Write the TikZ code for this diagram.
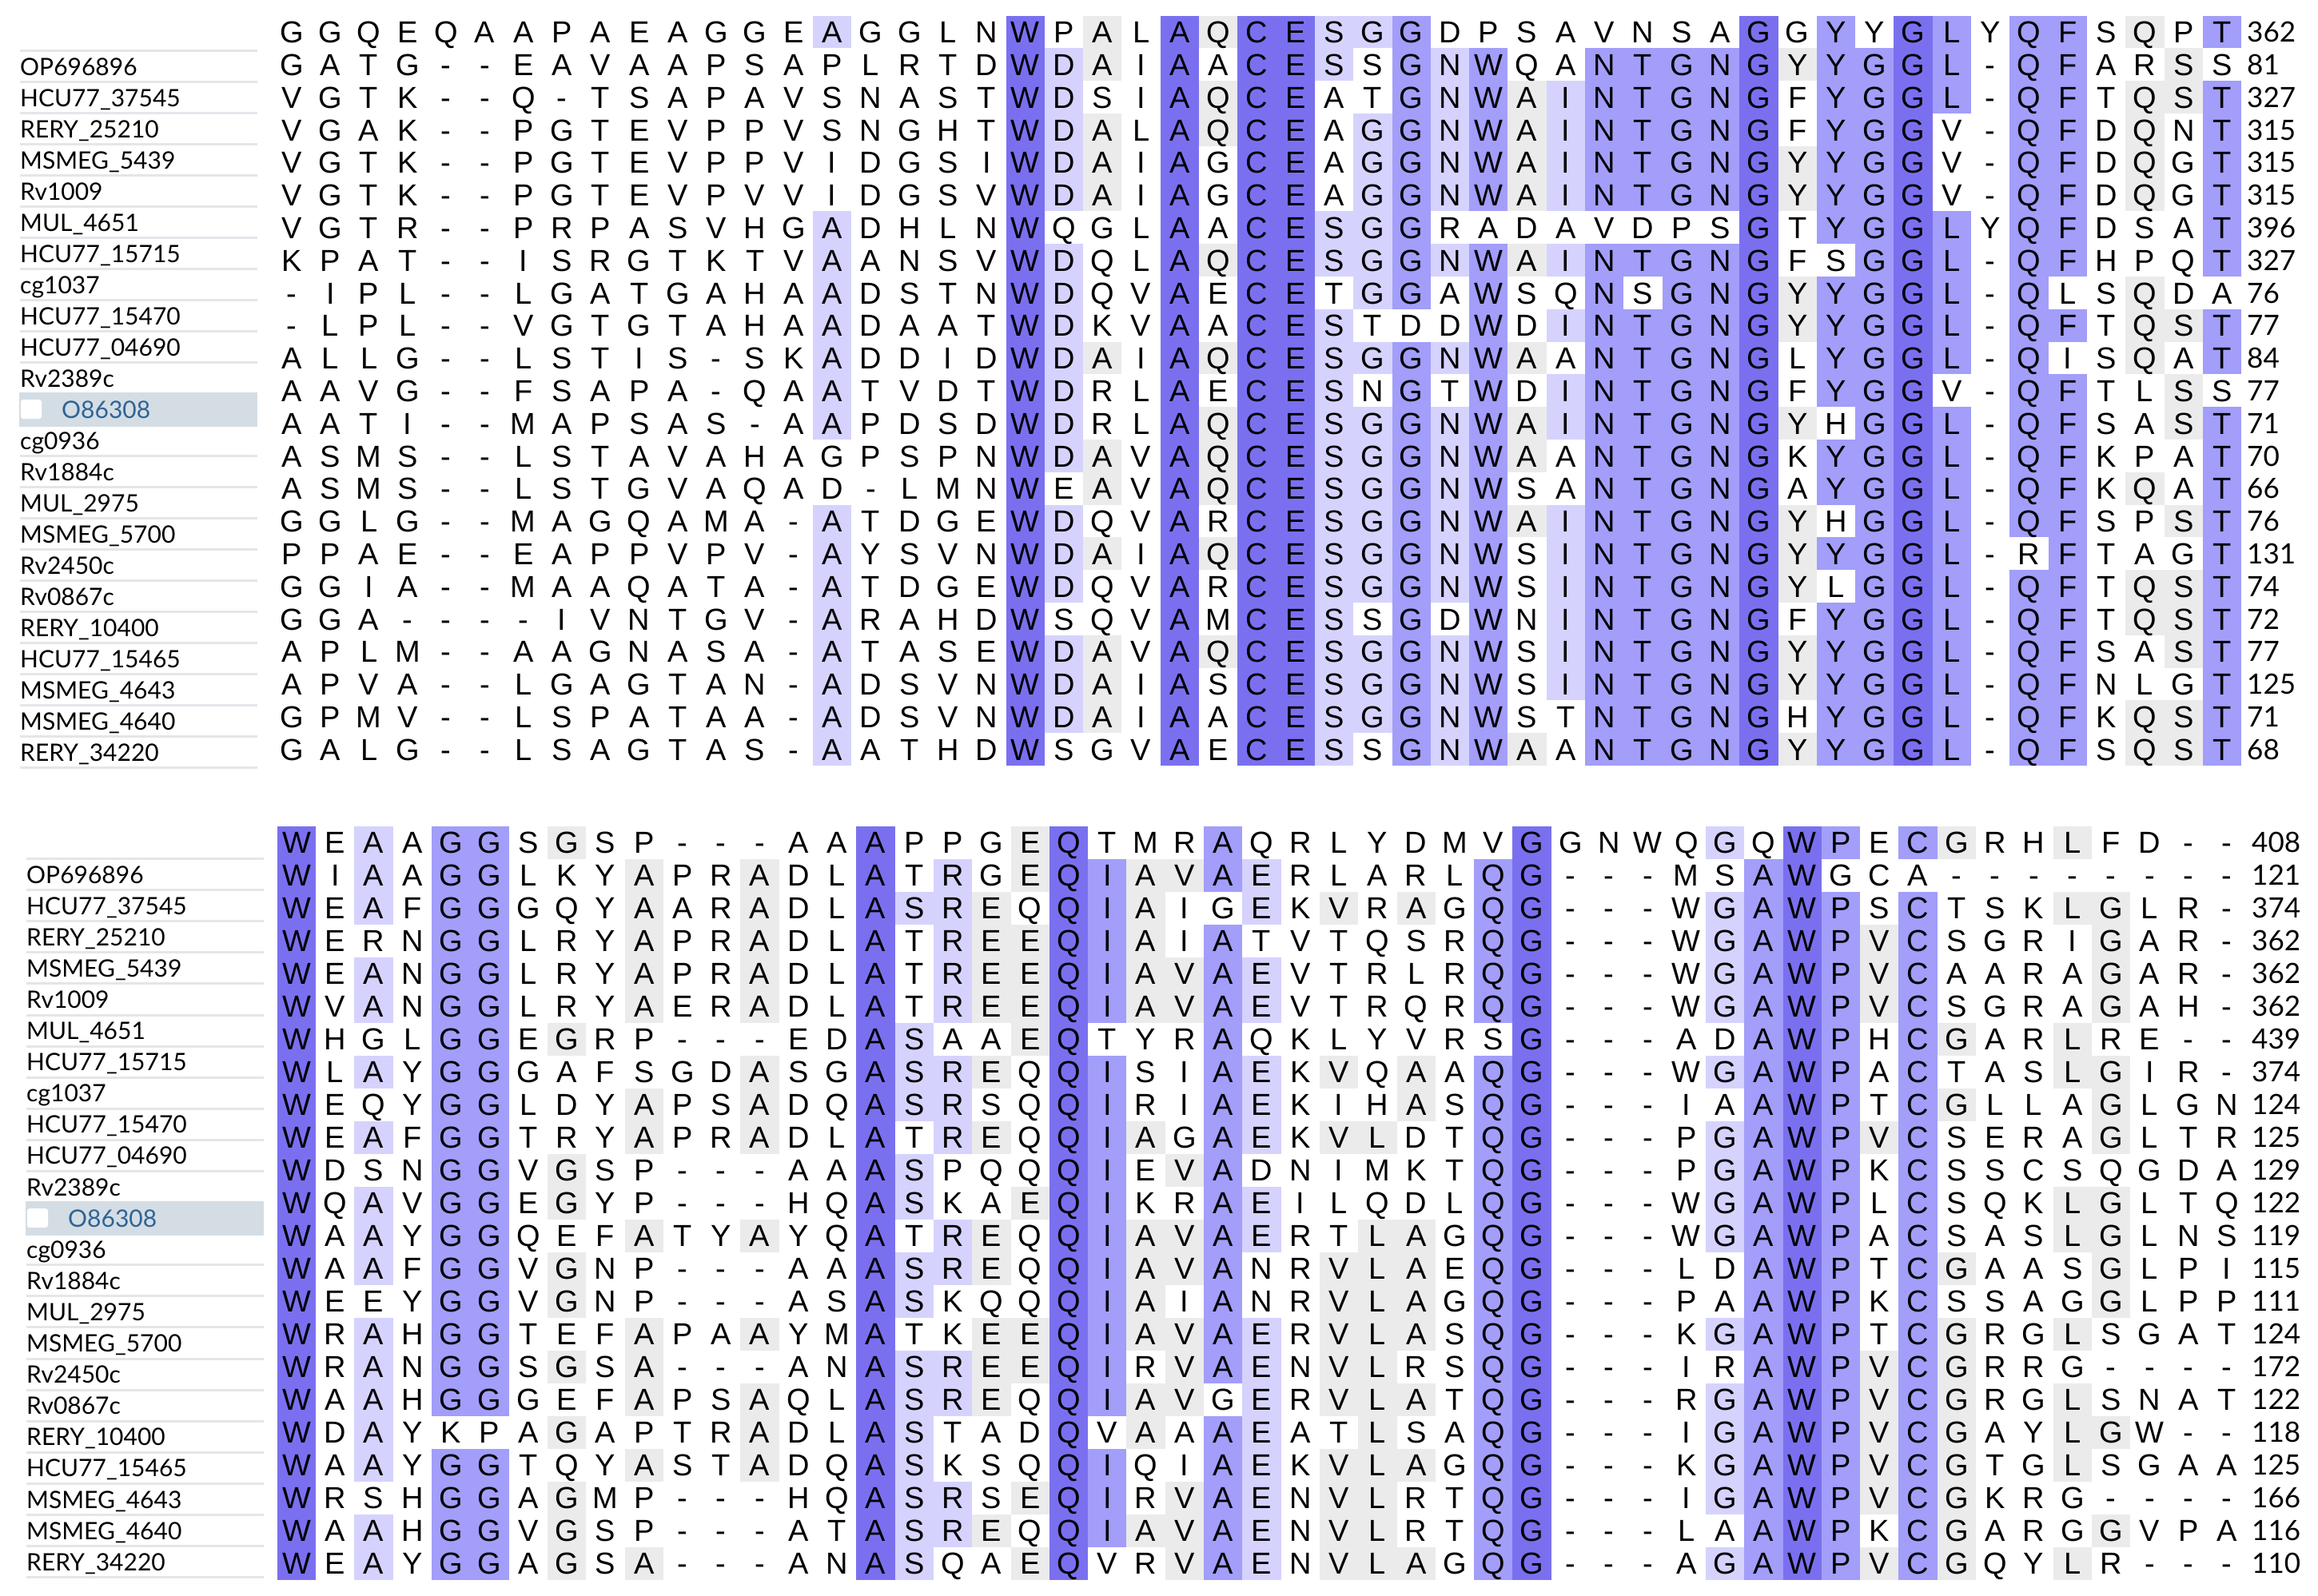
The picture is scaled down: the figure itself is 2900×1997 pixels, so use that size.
\documentclass[tikz,border=0pt]{standalone}
\usepackage{fontspec}
\newfontfamily\seqfont{Liberation Sans}
\newfontfamily\labfont{Lato}
\definecolor{lv1}{HTML}{EBEBEB}
\definecolor{lv2}{HTML}{D5D3FD}
\definecolor{lv3}{HTML}{A29EFA}
\definecolor{lv4}{HTML}{7A70EF}
\definecolor{sepgrey}{HTML}{E3E6EA}
\definecolor{selbox}{HTML}{D4DDE4}
\definecolor{seltext}{HTML}{2E6496}
\tikzset{
  res/.style={font=\seqfont\fontsize{38}{38}\selectfont, inner sep=0pt, anchor=base},
  numlab/.style={font=\labfont\fontsize{35}{35}\selectfont, inner sep=0pt, anchor=base west},
  seqlab/.style={font=\labfont\fontsize{30}{30}\selectfont, inner sep=0pt, anchor=base west},
  sepline/.style={draw=sepgrey, line width=3pt},
}

\ExplSyntaxOn
\seq_new:N \g_msa_rows_seq
\seq_new:N \l_msa_nums_seq
\prop_new:N \l_msa_cnt_prop
\prop_new:N \g_msa_cons_prop
\prop_new:N \g_msa_lev_prop
\tl_new:N \l_msa_ch_tl
\tl_new:N \l_msa_cons_tl
\tl_new:N \l_msa_col_tl
\tl_new:N \l_msa_name_tl
\tl_new:N \l_msa_num_tl
\tl_new:N \l_msa_xa_tl
\tl_new:N \l_msa_xb_tl
\tl_new:N \l_msa_ya_tl
\tl_new:N \l_msa_yb_tl
\tl_new:N \l_msa_xc_tl
\tl_new:N \l_msa_yc_tl
\tl_new:N \l_msa_blk_tl
\int_new:N \l_msa_max_int
\int_new:N \l_msa_row_int
\int_new:N \l_msa_lev_int
\int_new:N \l_msa_n_int
\fp_new:N \l_msa_xz_fp
\fp_new:N \l_msa_dx_fp
\fp_new:N \l_msa_yz_fp
\fp_new:N \l_msa_dy_fp
\bool_new:N \l_msa_pass_bool

\cs_generate_variant:Nn \prop_put:Nnn { Nnx }
\cs_generate_variant:Nn \prop_gput:Nnn { NnV , Nnx }

\cs_new_protected:Npn \msa_add:n #1
  {
    \prop_put:Nnx \l_msa_cnt_prop {#1}
      { \int_eval:n { 0 \prop_item:Nn \l_msa_cnt_prop {#1} + 1 } }
  }
\cs_generate_variant:Nn \msa_add:n { V }

\cs_new_protected:Npn \msa_column:n #1
  {
    \prop_clear:N \l_msa_cnt_prop
    \seq_map_inline:Nn \g_msa_rows_seq
      {
        \tl_set:Nx \l_msa_ch_tl { \str_item:nn {##1} {#1} }
        \str_if_eq:eeF { \l_msa_ch_tl } { - }
          { \msa_add:V \l_msa_ch_tl }
      }
    \int_zero:N \l_msa_max_int
    \tl_clear:N \l_msa_cons_tl
    \prop_map_inline:Nn \l_msa_cnt_prop
      {
        \int_compare:nNnT {##2} > \l_msa_max_int
          {
            \int_set:Nn \l_msa_max_int {##2}
            \tl_set:Nn \l_msa_cons_tl {##1}
          }
      }
    \prop_gput:NnV \g_msa_cons_prop {#1} \l_msa_cons_tl
    \int_set:Nn \l_msa_n_int { \seq_count:N \g_msa_rows_seq }
    \prop_gput:Nnx \g_msa_lev_prop {#1}
      {
        \int_compare:nNnTF { \l_msa_max_int } = { \l_msa_n_int } { 4 }
          {
            \int_compare:nNnTF { 5 * \l_msa_max_int } < { 4 * \l_msa_n_int }
              {
                \int_compare:nNnTF { 5 * \l_msa_max_int } < { 3 * \l_msa_n_int }
                  {
                    \int_compare:nNnTF { 5 * \l_msa_max_int } < { 2 * \l_msa_n_int }
                      { 0 } { 1 }
                  }
                  { 2 }
              }
              { 3 }
          }
      }
  }

\cs_new_protected:Npn \msa_row:nn #1#2
  {
    \tl_set:Nx \l_msa_yc_tl { \fp_eval:n { \l_msa_yz_fp + #1 * \l_msa_dy_fp } }
    \int_step_inline:nn { \str_count:n {#2} }
      {
        \tl_set:Nx \l_msa_ch_tl { \str_item:nn {#2} {##1} }
        \tl_set:Nx \l_msa_xc_tl { \fp_eval:n { \l_msa_xz_fp + (##1 - 1) * \l_msa_dx_fp } }
        \bool_if:NTF \l_msa_pass_bool
          {
            \int_set:Nn \l_msa_lev_int { 0 \prop_item:Nn \g_msa_lev_prop {##1} }
            \bool_lazy_and:nnT
              { \int_compare_p:nNn \l_msa_lev_int > 0 }
              { \str_if_eq_p:ee { \l_msa_ch_tl } { \prop_item:Nn \g_msa_cons_prop {##1} } }
              {
                \tl_set:Nx \l_msa_col_tl { lv \int_use:N \l_msa_lev_int }
                \tl_set:Nx \l_msa_xa_tl { \fp_eval:n { \l_msa_xc_tl - \l_msa_dx_fp / 2 } }
                \tl_set:Nx \l_msa_xb_tl { \fp_eval:n { \l_msa_xc_tl + \l_msa_dx_fp / 2 } }
                \tl_set:Nx \l_msa_ya_tl { \fp_eval:n { \l_msa_yc_tl - \l_msa_dy_fp / 2 } }
                \tl_set:Nx \l_msa_yb_tl { \fp_eval:n { \l_msa_yc_tl + \l_msa_dy_fp / 2 } }
                \fill [ fill = \l_msa_col_tl ] ( \l_msa_xa_tl , \l_msa_ya_tl ) ~ rectangle ~ ( \l_msa_xb_tl , \l_msa_yb_tl ) ;
              }
          }
          {
            \tl_set:Nx \l_msa_name_tl { \l_msa_blk_tl r #1 c ##1 }
            \tl_set:Nx \l_msa_yb_tl { \fp_eval:n { \l_msa_yc_tl + 13.6 } }
            \node [ res ] ~ ( \l_msa_name_tl ) ~ at ~ ( \l_msa_xc_tl , \l_msa_yb_tl ) ~ { \l_msa_ch_tl } ;
          }
      }
    \bool_if:NF \l_msa_pass_bool
      {
        \tl_set:Nx \l_msa_xa_tl { \fp_eval:n { \l_msa_xz_fp + 50 * \l_msa_dx_fp + 31 } }
        \tl_set:Nx \l_msa_ya_tl { \fp_eval:n { \l_msa_yc_tl + 12.6 } }
        \tl_set:Nx \l_msa_num_tl { \seq_item:Nn \l_msa_nums_seq { #1 + 1 } }
        \tl_set:Nx \l_msa_name_tl { \l_msa_blk_tl n #1 }
        \node [ numlab ] ~ ( \l_msa_name_tl ) ~ at ~ ( \l_msa_xa_tl , \l_msa_ya_tl ) ~ { \l_msa_num_tl } ;
      }
  }

\cs_new_protected:Npn \msa_rows:
  {
    \int_zero:N \l_msa_row_int
    \seq_map_inline:Nn \g_msa_rows_seq
      {
        \exp_args:NV \msa_row:nn \l_msa_row_int {##1}
        \int_incr:N \l_msa_row_int
      }
  }

\NewDocumentCommand \MSABlock { m m m m m m m }
  {
    \tl_set:Nn \l_msa_blk_tl {#1}
    \fp_set:Nn \l_msa_xz_fp {#2}
    \fp_set:Nn \l_msa_dx_fp {#3}
    \fp_set:Nn \l_msa_yz_fp {#4}
    \fp_set:Nn \l_msa_dy_fp {#5}
    \seq_gset_from_clist:Nn \g_msa_rows_seq {#6}
    \seq_set_from_clist:Nn \l_msa_nums_seq {#7}
    \prop_gclear:N \g_msa_cons_prop
    \prop_gclear:N \g_msa_lev_prop
    \int_step_inline:nn { 51 } { \msa_column:n {##1} }
    \bool_set_true:N \l_msa_pass_bool
    \msa_rows:
    \bool_set_false:N \l_msa_pass_bool
    \msa_rows:
  }
\ExplSyntaxOff

\newcommand\MSALabels[4]{%
  \foreach \lab [count=\i] in {OP696896,HCU77\_37545,RERY\_25210,MSMEG\_5439,Rv1009,MUL\_4651,HCU77\_15715,cg1037,HCU77\_15470,HCU77\_04690,Rv2389c,O86308,cg0936,Rv1884c,MUL\_2975,MSMEG\_5700,Rv2450c,Rv0867c,RERY\_10400,HCU77\_15465,MSMEG\_4643,MSMEG\_4640,RERY\_34220} {
    \pgfmathsetmacro\ly{#3+(\i-1)*#4}
    \ifnum\i=12
      \fill[selbox] (#2-1,\ly-21.5) rectangle (#2+297,\ly+21.5);
      \fill[white, rounded corners=3pt] (#2+1,\ly-12) rectangle (#2+27,\ly+12);
      \node[seqlab, text=seltext] (#1l\i) at (#2+52,\ly+11) {\lab};
    \else
      \node[seqlab] (#1l\i) at (#2,\ly+11) {\lab};
      \ifnum\i<12 \draw[sepline] (#2,\ly-19.5) -- (#2+297,\ly-19.5); \fi
      \ifnum\i>12 \draw[sepline] (#2,\ly+19.5) -- (#2+297,\ly+19.5); \fi
    \fi
  }%
}

\begin{document}
\begin{tikzpicture}[x=1pt,y=-1pt]
\useasboundingbox (0,0) rectangle (2900,1997);
\fill[white] (0,0) rectangle (2900,1997);

\MSABlock{a}{365}{48.3}{40}{40.8}{
GGQEQAAPAEAGGEAGGLNWPALAQCESGGDPSAVNSAGGYYGLYQFSQPT,
GATG--EAVAAPSAPLRTDWDAIAACESSGNWQANTGNGYYGGL-QFARSS,
VGTK--Q-TSAPAVSNASTWDSIAQCEATGNWAINTGNGFYGGL-QFTQST,
VGAK--PGTEVPPVSNGHTWDALAQCEAGGNWAINTGNGFYGGV-QFDQNT,
VGTK--PGTEVPPVIDGSIWDAIAGCEAGGNWAINTGNGYYGGV-QFDQGT,
VGTK--PGTEVPVVIDGSVWDAIAGCEAGGNWAINTGNGYYGGV-QFDQGT,
VGTR--PRPASVHGADHLNWQGLAACESGGRADAVDPSGTYGGLYQFDSAT,
KPAT--ISRGTKTVAANSVWDQLAQCESGGNWAINTGNGFSGGL-QFHPQT,
-IPL--LGATGAHAADSTNWDQVAECETGGAWSQNSGNGYYGGL-QLSQDA,
-LPL--VGTGTAHAADAATWDKVAACESTDDWDINTGNGYYGGL-QFTQST,
ALLG--LSTIS-SKADDIDWDAIAQCESGGNWAANTGNGLYGGL-QISQAT,
AAVG--FSAPA-QAATVDTWDRLAECESNGTWDINTGNGFYGGV-QFTLSS,
AATI--MAPSAS-AAPDSDWDRLAQCESGGNWAINTGNGYHGGL-QFSAST,
ASMS--LSTAVAHAGPSPNWDAVAQCESGGNWAANTGNGKYGGL-QFKPAT,
ASMS--LSTGVAQAD-LMNWEAVAQCESGGNWSANTGNGAYGGL-QFKQAT,
GGLG--MAGQAMA-ATDGEWDQVARCESGGNWAINTGNGYHGGL-QFSPST,
PPAE--EAPPVPV-AYSVNWDAIAQCESGGNWSINTGNGYYGGL-RFTAGT,
GGIA--MAAQATA-ATDGEWDQVARCESGGNWSINTGNGYLGGL-QFTQST,
GGA----IVNTGV-ARAHDWSQVAMCESSGDWNINTGNGFYGGL-QFTQST,
APLM--AAGNASA-ATASEWDAVAQCESGGNWSINTGNGYYGGL-QFSAST,
APVA--LGAGTAN-ADSVNWDAIASCESGGNWSINTGNGYYGGL-QFNLGT,
GPMV--LSPATAA-ADSVNWDAIAACESGGNWSTNTGNGHYGGL-QFKQST,
GALG--LSAGTAS-AATHDWSGVAECESSGNWAANTGNGYYGGL-QFSQST
}{362,81,327,315,315,315,396,327,76,77,84,77,71,70,66,76,131,74,72,77,125,71,68}

\MSABlock{b}{371}{48.3}{1054}{41}{
WEAAGGSGSP---AAAPPGEQTMRAQRLYDMVGGNWQGQWPECGRHLFD--,
WIAAGGLKYAPRADLATRGEQIAVAERLARLQG---MSAWGCA--------,
WEAFGGGQYAARADLASREQQIAIGEKVRAGQG---WGAWPSCTSKLGLR-,
WERNGGLRYAPRADLATREEQIAIATVTQSRQG---WGAWPVCSGRIGAR-,
WEANGGLRYAPRADLATREEQIAVAEVTRLRQG---WGAWPVCAARAGAR-,
WVANGGLRYAERADLATREEQIAVAEVTRQRQG---WGAWPVCSGRAGAH-,
WHGLGGEGRP---EDASAAEQTYRAQKLYVRSG---ADAWPHCGARLRE--,
WLAYGGGAFSGDASGASREQQISIAEKVQAAQG---WGAWPACTASLGIR-,
WEQYGGLDYAPSADQASRSQQIRIAEKIHASQG---IAAWPTCGLLAGLGN,
WEAFGGTRYAPRADLATREQQIAGAEKVLDTQG---PGAWPVCSERAGLTR,
WDSNGGVGSP---AAASPQQQIEVADNIMKTQG---PGAWPKCSSCSQGDA,
WQAVGGEGYP---HQASKAEQIKRAEILQDLQG---WGAWPLCSQKLGLTQ,
WAAYGGQEFATYAYQATREQQIAVAERTLAGQG---WGAWPACSASLGLNS,
WAAFGGVGNP---AAASREQQIAVANRVLAEQG---LDAWPTCGAASGLPI,
WEEYGGVGNP---ASASKQQQIAIANRVLAGQG---PAAWPKCSSAGGLPP,
WRAHGGTEFAPAAYMATKEEQIAVAERVLASQG---KGAWPTCGRGLSGAT,
WRANGGSGSA---ANASREEQIRVAENVLRSQG---IRAWPVCGRRG----,
WAAHGGGEFAPSAQLASREQQIAVGERVLATQG---RGAWPVCGRGLSNAT,
WDAYKPAGAPTRADLASTADQVAAAEATLSAQG---IGAWPVCGAYLGW--,
WAAYGGTQYASTADQASKSQQIQIAEKVLAGQG---KGAWPVCGTGLSGAA,
WRSHGGAGMP---HQASRSEQIRVAENVLRTQG---IGAWPVCGKRG----,
WAAHGGVGSP---ATASREQQIAVAENVLRTQG---LAAWPKCGARGGVPA,
WEAYGGAGSA---ANASQAEQVRVAENVLAGQG---AGAWPVCGQYLR---
}{408,121,374,362,362,362,439,374,124,125,129,122,119,115,111,124,172,122,118,125,166,116,110}

\MSALabels{a}{25}{83}{39.0}
\MSALabels{b}{33}{1094}{39.1}
\end{tikzpicture}
\end{document}
